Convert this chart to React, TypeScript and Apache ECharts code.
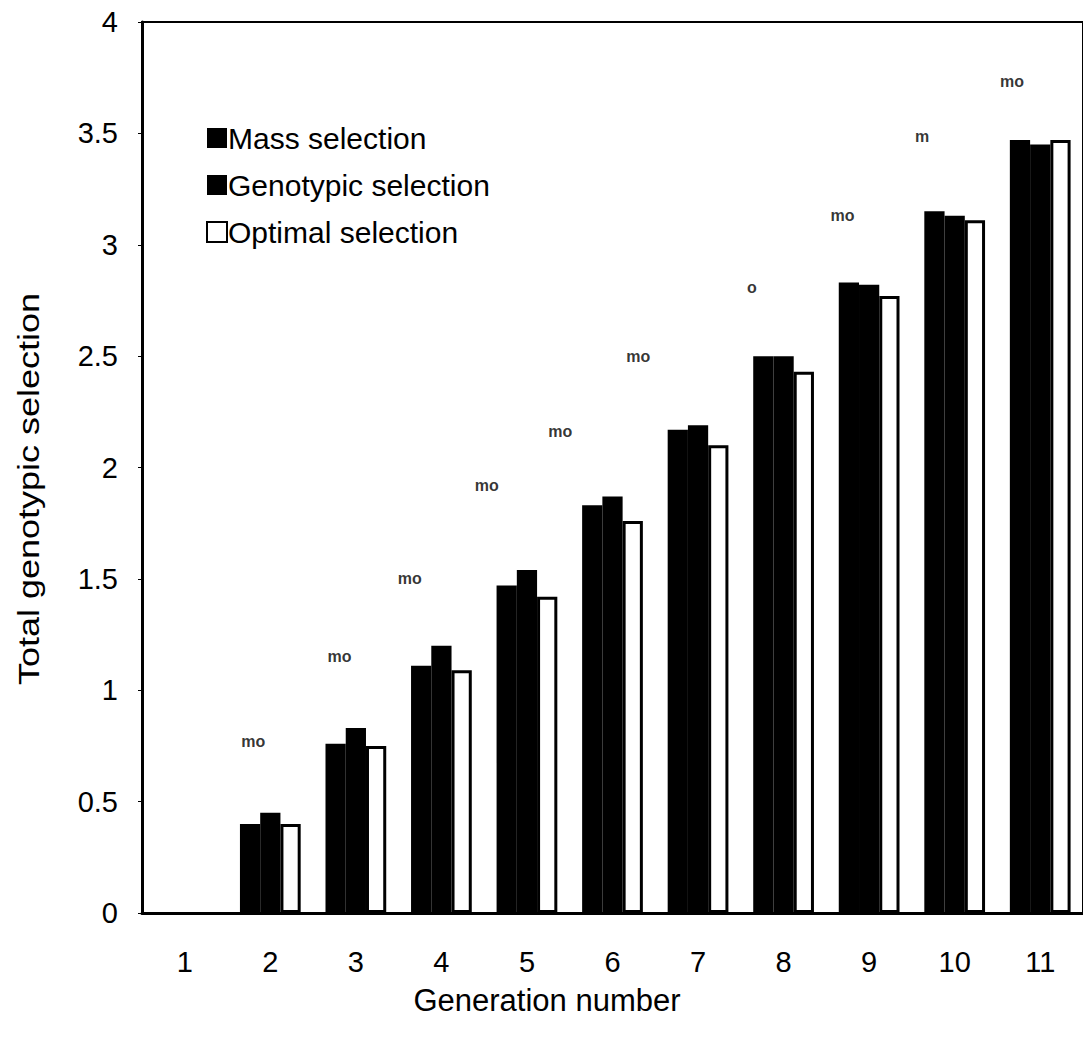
import React, { useEffect, useRef } from "react";
import * as echarts from "echarts";

// Generation numbers on the x axis
const generations = ["1", "2", "3", "4", "5", "6", "7", "8", "9", "10", "11"];

// Cumulative genotypic selection response per generation
const massSelection = [0, 0.40, 0.76, 1.11, 1.47, 1.83, 2.17, 2.50, 2.83, 3.15, 3.47];
const genotypicSelection = [0, 0.45, 0.83, 1.20, 1.54, 1.87, 2.19, 2.50, 2.82, 3.13, 3.45];
const optimalSelection = [0, 0.40, 0.75, 1.09, 1.42, 1.76, 2.10, 2.43, 2.77, 3.11, 3.47];

// Significance notes: text, x position in generation units, height in y units
const noteTexts = ["mo", "mo", "mo", "mo", "mo", "mo", "o", "mo", "m", "mo"];
const noteX = [1.80, 2.81, 3.63, 4.53, 5.39, 6.30, 7.63, 8.69, 9.62, 10.67];
const noteY = [0.77, 1.15, 1.50, 1.92, 2.16, 2.50, 2.81, 3.13, 3.485, 3.735];

// Y axis range and step
const yMin = 0;
const yMax = 4;
const yStep = 0.5;

const xTitle = "Generation number";
const yTitle = "Total genotypic selection";
const FONT = "'Liberation Sans', Arial, sans-serif";

export default function App() {
  const ref = useRef<HTMLDivElement>(null);

  useEffect(() => {
    if (!ref.current) return;
    const chart = echarts.init(ref.current, null, { renderer: "svg" });

    const notes = noteTexts.map((t, i) => ({ name: t, value: [noteX[i], noteY[i]] }));
    // zero-height outlined bars would leave a stub on the axis
    const optimalItems = optimalSelection.map((v) =>
      v === 0 ? { value: v, itemStyle: { borderWidth: 0 } } : v
    );

    chart.setOption({
      animation: false,
      backgroundColor: "#ffffff",
      textStyle: { fontFamily: FONT, color: "#000" },
      grid: {
        left: 142,
        right: 0,
        top: 22,
        bottom: 125,
        show: true,
        borderColor: "#000",
        borderWidth: 2,
      },
      legend: {
        orient: "vertical",
        left: 201,
        top: 118,
        itemGap: 17,
        itemWidth: 20,
        itemHeight: 20,
        icon: "rect",
        textStyle: { fontFamily: FONT, fontSize: 30, color: "#000", padding: [0, 0, 0, -4] },
        data: ["Mass selection", "Genotypic selection", "Optimal selection"],
      },
      graphic: [
        {
          type: "text",
          x: 29,
          y: 489,
          rotation: Math.PI / 2,
          scaleX: 1.2,
          style: {
            text: yTitle,
            fontFamily: FONT,
            fontSize: 30,
            fill: "#000",
            align: "center",
            verticalAlign: "middle",
          },
        },
        {
          type: "text",
          x: 547,
          y: 1000,
          style: {
            text: xTitle,
            fontFamily: FONT,
            fontSize: 31,
            fill: "#000",
            align: "center",
            verticalAlign: "middle",
          },
        },
      ],
      xAxis: [
        {
          type: "category",
          data: generations,
          axisLine: { show: true, lineStyle: { color: "#000", width: 3 } },
          axisTick: { show: false },
          axisLabel: { fontFamily: FONT, fontSize: 29, color: "#000", margin: 34 },
          splitLine: { show: false },
        },
        {
          type: "value",
          min: 0.5,
          max: 11.5,
          show: false,
          splitLine: { show: false },
        },
      ],
      yAxis: {
        type: "value",
        min: yMin,
        max: yMax,
        interval: yStep,
        axisLine: { show: true, lineStyle: { color: "#000", width: 3 } },
        axisTick: { show: true, inside: false, length: 4, lineStyle: { color: "#000", width: 1 } },
        axisLabel: { fontFamily: FONT, fontSize: 29, color: "#000", margin: 24 },
        splitLine: { show: false },
      },
      series: [
        {
          name: "Mass selection",
          type: "bar",
          data: massSelection,
          barGap: "0%",
          barCategoryGap: "29%",
          itemStyle: { color: "#000" },
        },
        {
          name: "Genotypic selection",
          type: "bar",
          data: genotypicSelection,
          itemStyle: { color: "#000" },
        },
        {
          name: "Optimal selection",
          type: "bar",
          data: optimalItems,
          itemStyle: { color: "#fff", borderColor: "#000", borderWidth: 3 },
        },
        {
          type: "scatter",
          xAxisIndex: 1,
          data: notes,
          symbolSize: 0,
          silent: true,
          label: {
            show: true,
            position: "inside",
            formatter: (p: any) => p.name,
            fontFamily: FONT,
            fontSize: 16,
            fontWeight: "bold",
            color: "#000",
          },
        },
      ],
    });

    return () => chart.dispose();
  }, []);

  return (
    <div
      ref={ref}
      style={{ position: "absolute", left: 0, top: 0, width: 1083, height: 1038, background: "#fff" }}
    />
  );
}
